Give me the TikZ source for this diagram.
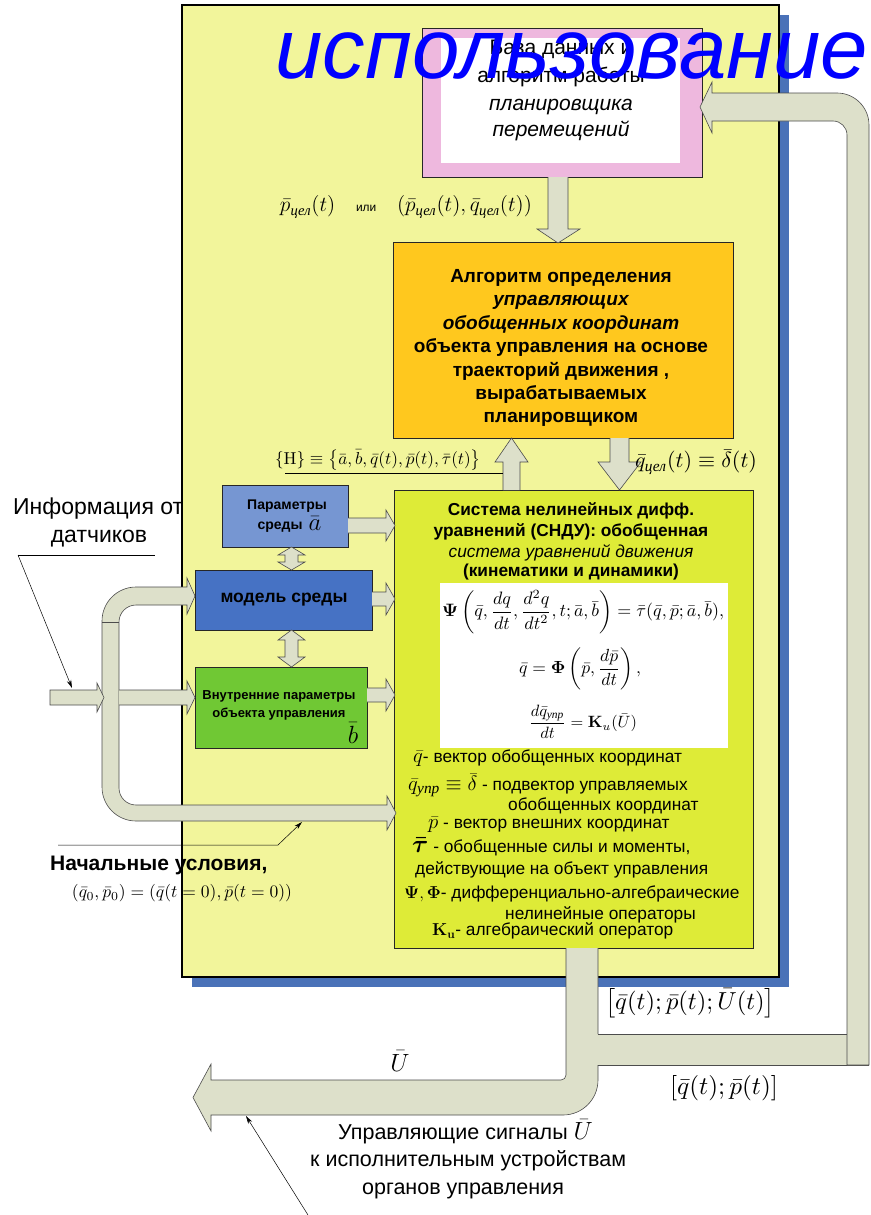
\documentclass[tikz,border=0pt]{standalone}
\usepackage{amsmath}
\usepackage{graphicx}
\usepackage[no-math]{fontspec}
\setmainfont{Liberation Sans}
\newfontfamily\tnr{Liberation Serif}
\usetikzlibrary{arrows.meta}
\definecolor{panelc}{RGB}{242,245,155}
\definecolor{shadowc}{RGB}{74,114,184}
\definecolor{pinkc}{RGB}{238,184,222}
\definecolor{orangec}{RGB}{255,200,30}
\definecolor{sysc}{RGB}{222,235,55}
\definecolor{parc}{RGB}{118,150,210}
\definecolor{modc}{RGB}{70,114,196}
\definecolor{grnc}{RGB}{112,200,52}
\definecolor{arrc}{RGB}{221,224,202}
\newcommand{\fsz}[2]{\fontsize{#1}{#2}\selectfont}
\newcommand{\cyr}[1]{\text{\tnr\itshape #1}}
\begin{document}
\begin{tikzpicture}[x=1pt,y=-1pt,
  blk/.style={fill=arrc,draw=black!70,line width=0.6pt},
  bx/.style={draw=black!85,line width=0.8pt,inner sep=0pt,outer sep=0pt,anchor=north west},
  ldr/.style={draw=black,line width=0.5pt},
  tipa/.style={-{Stealth[length=8pt,width=4.5pt]}},
  ln/.style={inner sep=0pt,text height=0.72em,text depth=0.22em},
  lw/.style={ln,anchor=west},
  mth/.style={inner sep=0pt}]
\useasboundingbox (0,0) rectangle (870,1215);
\fill[white] (0,0) rectangle (870,1215);

% ---------- panel ----------
\fill[shadowc] (192,15) rectangle (789,987);
\node[bx,fill=panelc,draw=black,line width=1.4pt,minimum width=597pt,minimum height=972pt] (panel) at (182,5) {};

% ---------- planner box ----------
\node[bx,fill=pinkc,minimum width=280pt,minimum height=149pt] (pink) at (422,28) {};
\node[bx,fill=white,draw=none,minimum width=239pt,minimum height=125pt] (pinkin) at (441,38) {};
\node[ln,font=\fsz{21}{24}] (pk1) at (561,52) {База данных и};
\node[ln,font=\fsz{21}{24}] (pk2) at (561,80) {алгоритм работы};
\node[ln,font=\fsz{21}{24}\itshape] (pk3) at (561,108) {планировщика};
\node[ln,font=\fsz{21}{24}\itshape] (pk4) at (561,134) {перемещений};

% ---------- algorithm box ----------
\node[bx,fill=orangec,minimum width=340pt,minimum height=196pt] (alg) at (393,242) {};
\begin{scope}[every node/.style={ln,font=\fsz{19}{22}\bfseries}]
\node (a1) at (561,280) {Алгоритм определения};
\node[font=\fsz{19}{22}\bfseries\itshape] (a2) at (561,303) {управляющих};
\node[font=\fsz{19}{22}\bfseries\itshape] (a3) at (561,327) {обобщенных координат};
\node (a4) at (561,350) {объекта управления на основе};
\node (a5) at (561,374) {траекторий движения ,};
\node (a6) at (561,397) {вырабатываемых};
\node (a7) at (561,420) {планировщиком};
\end{scope}

% ---------- system box ----------
\node[bx,fill=sysc,minimum width=359pt,minimum height=458pt] (sys) at (394,490) {};
\node[bx,fill=white,draw=none,minimum width=288pt,minimum height=165pt] (eqbox) at (440,583) {};
\begin{scope}[every node/.style={ln,font=\fsz{17.3}{20}\bfseries}]
\node (s1) at (571,513) {Система нелинейных дифф.};
\node (s2) at (571,534) {уравнений (СНДУ): обобщенная};
\node[font=\fsz{17.3}{20}\itshape] (s3) at (571,555) {система уравнений движения};
\node (s4) at (571,574) {(кинематики и динамики)};
\end{scope}
\node[mth] (eq1) at (583,612) {\resizebox{282pt}{!}{$\mathbf{\Psi}\left(\bar q,\dfrac{dq}{dt},\dfrac{d^2q}{dt^2},t;\bar a,\bar b\right)=\bar\tau(\bar q,\bar p;\bar a,\bar b),$}};
\node[mth] (eq2) at (580,669) {\resizebox{122pt}{!}{$\bar q=\mathbf{\Phi}\left(\bar p,\dfrac{d\bar p}{dt}\right),$}};
\node[mth] (eq3) at (583,722) {\resizebox{108pt}{!}{$\dfrac{d\bar q_{\cyr{упр}}}{dt}=\mathbf{K}_u(\bar U)$}};

\begin{scope}[every node/.style={lw,font=\fsz{17.3}{20}}]
\node (g1) at (413,760) {{\fsz{22}{24}$\bar q$}- вектор обобщенных координат};
\node (g2) at (408,788) {{\fsz{22}{24}$\bar q_{\cyr{упр}}\equiv\bar\delta$} - подвектор управляемых};
\node (g3) at (508,808) {обобщенных координат};
\node (g4) at (428,826) {{\fsz{22}{24}$\bar p$} - вектор внешних координат};
\node (g5) at (412,850) {{\fsz{24}{26}$\boldsymbol{\bar\tau}$} - обобщенные силы и моменты,};
\node (g6) at (415,872) {действующие на объект управления};
\node (g7) at (404,896) {{\fsz{18}{20}$\mathbf{\Psi},\mathbf{\Phi}$}- дифференциально-алгебраические};
\node (g8) at (505,917) {нелинейные операторы};
\node (g9) at (432,933) {{\fsz{17}{19}$\mathbf{K}_{\mathbf{u}}$}- алгебраический оператор};
\end{scope}

% ---------- left boxes ----------
\node[bx,fill=parc,minimum width=126pt,minimum height=62pt] (par) at (222,485) {};
\node[ln,font=\fsz{14}{16}\bfseries] (par1) at (287,507) {Параметры};
\node[ln,font=\fsz{14}{16}\bfseries] (par2) at (280,527) {среды};
\node[mth,font=\fsz{24}{26}] (par3) at (315,524) {$\bar a$};
\node[bx,fill=modc,minimum width=177pt,minimum height=60pt] (mod) at (195,570) {};
\node[ln,font=\fsz{17.5}{20}\bfseries] (mod1) at (284,600) {модель среды};
\node[bx,fill=grnc,minimum width=172pt,minimum height=81pt] (grn) at (195,667) {};
\node[ln,font=\fsz{13}{15}\bfseries] (grn1) at (279,697) {Внутренние параметры};
\node[ln,font=\fsz{13}{15}\bfseries] (grn2) at (279,715) {объекта управления};
\node[mth,font=\fsz{24}{26}] (grn3) at (353,733) {$\bar b$};

% ---------- block arrows inside ----------
\draw[blk] (548,177) -- (548,229) -- (537,229) -- (558,243) -- (580,229) -- (568,229) -- (568,177);
\draw[blk] (503,490) -- (503,462) -- (495,462) -- (511.5,438) -- (528,462) -- (520,462) -- (520,490);
\draw[blk] (610,438) -- (610,462) -- (598,462) -- (619.5,490) -- (641,462) -- (629,462) -- (629,438);
\draw[blk] (285,555) -- (278,555) -- (291.5,547) -- (305,555) -- (298,555) -- (298,562) -- (305,562) -- (291.5,570) -- (278,562) -- (285,562) -- cycle;
\draw[blk] (285,640) -- (278,640) -- (291.5,630) -- (305,640) -- (298,640) -- (298,657) -- (305,657) -- (291.5,667) -- (278,657) -- (285,657) -- cycle;
\draw[blk] (348,518) -- (386,518) -- (386,510) -- (395,525.5) -- (386,541) -- (386,533) -- (348,533);
\draw[blk] (372,592) -- (386,592) -- (386,583) -- (395,599) -- (386,615) -- (386,606) -- (372,606);
\draw[blk] (367,688) -- (386,688) -- (386,679) -- (395,695) -- (386,711) -- (386,702) -- (367,702);

% labels around
\node[mth] (lbl1) at (406,207) {\resizebox{252pt}{!}{\fsz{14}{16}$\bar p_{\cyr{цел}}(t)$\quad{\fsz{8}{10}или}\quad$\left(\bar p_{\cyr{цел}}(t),\bar q_{\cyr{цел}}(t)\right)$}};
\node[mth] (lblH) at (378,460) {\resizebox{206pt}{!}{$\{\mathrm{H}\}\equiv\left\{\bar a,\bar b,\bar q(t),\bar p(t),\bar\tau(t)\right\}$}};
\draw[ldr] (285,473) -- (503,473);
\node[mth] (lblQ) at (696,462) {\resizebox{122pt}{!}{$\bar q_{\cyr{цел}}(t)\equiv\bar\delta(t)$}};

% ---------- left input trunk ----------
\draw[blk] (195,596) -- (187,614) -- (187,605) -- (136,605) arc[start angle=-90,end angle=-180,radius=17] -- (119,788) arc[start angle=180,end angle=90,radius=17] -- (387,805) -- (387,796) -- (396,813) -- (387,830) -- (387,821) -- (136,821) arc[start angle=90,end angle=180,radius=34] -- (102,621) arc[start angle=180,end angle=270,radius=34] -- (187,587) -- (187,578) -- cycle;
\draw[black!70,line width=0.6pt] (102,622) -- (119,622);
\fill[arrc] (119,690) rectangle (188,705);
\draw[blk] (119,690) -- (187,690) -- (187,681) -- (195,697.5) -- (187,714) -- (187,705) -- (119,705);
\draw[blk] (50,690) -- (97,690) -- (97,683) -- (104,697.5) -- (97,712) -- (97,705) -- (50,705) -- cycle;

% ---------- output arrow and feedback loop ----------
\draw[blk] (566,948) -- (566,1075) arc[start angle=0,end angle=90,radius=5] -- (211,1080) -- (211,1064) -- (193,1097.5) -- (211,1131) -- (211,1115) -- (563,1115) arc[start angle=90,end angle=0,radius=35] -- (598,948);
\fill[arrc] (597,1034) rectangle (848,1065);
\draw[black!70,line width=0.6pt] (597.7,1034) -- (847,1034);
\draw[black!70,line width=0.6pt] (597.7,1065) -- (869,1065);
\draw[blk] (700,107) -- (712,82) -- (712,93) -- (837,93) arc[start angle=-90,end angle=0,radius=32] -- (869,1065) -- (847,1065) -- (847,135) arc[start angle=0,end angle=-90,radius=14] -- (712,121) -- (712,133) -- cycle;

\node[mth] (lblQPU) at (690,1003) {\resizebox{170pt}{!}{$\left[\bar q(t);\bar p(t);\bar U(t)\right]$}};
\node[mth] (lblQP) at (724,1088) {\resizebox{108pt}{!}{$\left[\bar q(t);\bar p(t)\right]$}};
\node[mth,font=\fsz{30}{32}] (lblU) at (400,1061) {$\bar U$};

% ---------- outside texts and leaders ----------
\node[lw,font=\fsz{23}{26}] (inf1) at (13,512) {Информация от};
\node[ln,font=\fsz{23}{26}] (inf2) at (99,540) {датчиков};
\coordinate (infA) at (18,555);
\coordinate (infB) at (155,555);
\coordinate (infT) at (72,688);
\draw[ldr] (infA) -- (infB);
\draw[ldr,tipa] (infA) -- (infT);

\node[lw,font=\fsz{21}{24}\bfseries] (ini1) at (50,868) {Начальные условия,};
\node[mth] (ini2) at (182,893) {\resizebox{220pt}{!}{$\left(\bar q_0,\bar p_0\right)=\left(\bar q(t=0),\bar p(t=0)\right)$}};
\coordinate (iniA) at (58,845);
\coordinate (iniB) at (278,845);
\coordinate (iniT) at (302,822);
\draw[ldr,tipa] (iniA) -- (iniB) -- (iniT);

\node[lw,font=\fsz{21.5}{24}] (out1) at (338,1137) {Управляющие сигналы {\fsz{30}{32}$\bar U$}};
\node[lw,font=\fsz{21.5}{24}] (out2) at (310,1164) {к исполнительным устройствам};
\node[lw,font=\fsz{21.5}{24}] (out3) at (362,1192) {органов управления};
\coordinate (outA) at (308,1215);
\coordinate (outT) at (246,1116);
\draw[ldr,tipa] (outA) -- (outT);

% ---------- overlay word ----------
\node[anchor=base west,inner sep=0pt,text=blue,font=\fsz{85.2}{86}\itshape] (wm) at (275,78) {использование};
\end{tikzpicture}
\end{document}
